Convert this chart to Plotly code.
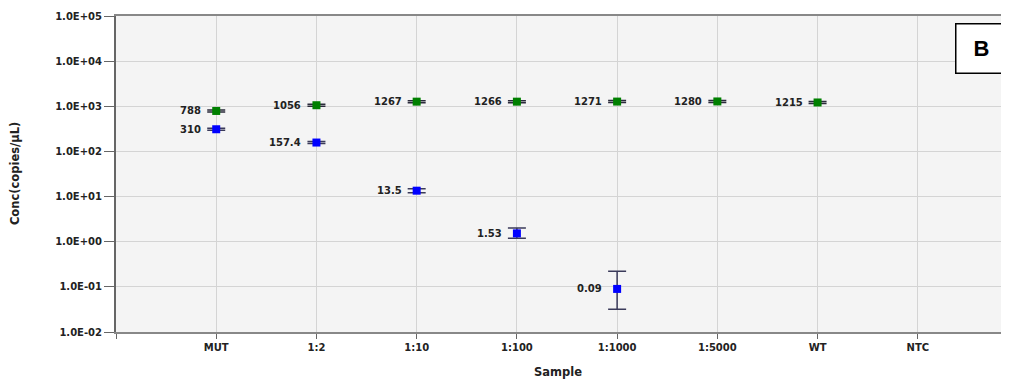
import math
import plotly.graph_objects as go

samples = ["MUT", "1:2", "1:10", "1:100", "1:1000", "1:5000", "WT", "NTC"]

# Green series (wild-type target)
green_idx = [0, 1, 2, 3, 4, 5, 6]
green_vals = [788, 1056, 1267, 1266, 1271, 1280, 1215]
green_hi = [830, 1110, 1330, 1330, 1335, 1345, 1275]
green_lo = [748, 1003, 1205, 1203, 1208, 1216, 1155]
green_labels = ["788", "1056", "1267", "1266", "1271", "1280", "1215"]

# Blue series (mutant target)
blue_idx = [0, 1, 2, 3, 4]
blue_vals = [310, 157.4, 13.5, 1.53, 0.09]
blue_hi = [326, 165, 14.9, 2.0, 0.222]
blue_lo = [294, 150, 12.2, 1.19, 0.0318]
blue_labels = ["310", "157.4", "13.5", "1.53", "0.09"]

y_tickvals = [1e-2, 1e-1, 1e0, 1e1, 1e2, 1e3, 1e4, 1e5]
y_ticktext = ["1.0E-02", "1.0E-01", "1.0E+00", "1.0E+01", "1.0E+02", "1.0E+03", "1.0E+04", "1.0E+05"]

FONT = "DejaVu Sans"
TXT = "#222"

fig = go.Figure()


def add_series(idx, vals, hi, lo, color, err_color):
    fig.add_trace(go.Scatter(
        x=idx, y=vals, mode="markers",
        marker=dict(symbol="square", size=8, color=color),
        error_y=dict(type="data", symmetric=False,
                     array=[h - v for h, v in zip(hi, vals)],
                     arrayminus=[v - l for v, l in zip(vals, lo)],
                     color=err_color, thickness=1.5, width=9),
        showlegend=False, hoverinfo="x+y"))


add_series(green_idx, green_vals, green_hi, green_lo, "#008000", "#2a2a3a")
add_series(blue_idx, blue_vals, blue_hi, blue_lo, "#0000ff", "#3a3a5a")

for idx, vals, labels in ((green_idx, green_vals, green_labels), (blue_idx, blue_vals, blue_labels)):
    for i, v, t in zip(idx, vals, labels):
        fig.add_annotation(x=i, y=math.log10(v), text=t, showarrow=False, xanchor="right",
                           xshift=-13, font=dict(family=FONT, size=10, color=TXT, weight="bold"))

# Panel label "B"
fig.add_annotation(xref="paper", yref="paper", x=1.0, y=0.978, xanchor="right", yanchor="top",
                   text="<b>B</b>", showarrow=False, bgcolor="white", xshift=-1,
                   bordercolor="black", borderwidth=1.5, width=48, height=46,
                   font=dict(family="Liberation Sans", size=22, color="black"))

# Axis titles
fig.add_annotation(xref="paper", yref="paper", x=0.495, y=-0.127, yanchor="middle",
                   text="Sample", showarrow=False,
                   font=dict(family=FONT, size=11.5, color=TXT, weight="bold"))
fig.add_annotation(xref="paper", yref="paper", x=-0.113, y=0.5, xanchor="center",
                   text="Conc(copies/µL)", textangle=-90, showarrow=False,
                   font=dict(family=FONT, size=11.5, color=TXT, weight="bold"))

fig.update_xaxes(
    range=[-1, 7.91], tickmode="array", tickvals=[-1] + list(range(len(samples))),
    ticktext=[""] + samples, showgrid=True, gridcolor="#d4d4d4", gridwidth=1,
    showline=True, linecolor="#888", linewidth=2, mirror=True,
    ticks="outside", ticklen=5, tickcolor="#666", zeroline=False, automargin=False,
    tickfont=dict(family=FONT, size=10, color=TXT, weight="bold"),
)
fig.update_yaxes(
    type="log", range=[-2, 5], tickmode="array", tickvals=y_tickvals, ticktext=y_ticktext,
    showgrid=True, gridcolor="#d4d4d4", gridwidth=1,
    showline=True, linecolor="#666", linewidth=2, mirror=False,
    ticks="outside", ticklen=10, tickcolor="#666", zeroline=False, automargin=False,
    tickfont=dict(family=FONT, size=10, color=TXT, weight="bold"),
)

fig.update_layout(
    width=1001, height=373,
    margin=dict(l=108, r=0, t=8, b=49),
    plot_bgcolor="#f4f4f4", paper_bgcolor="white",
)

fig.write_html("out.html", config={"displayModeBar": False})
